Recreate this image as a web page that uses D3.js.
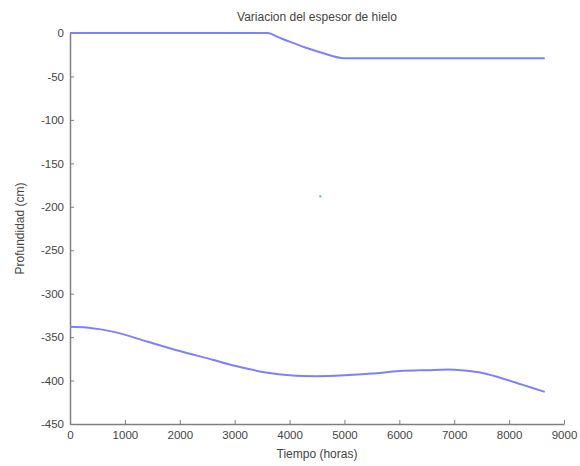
<!DOCTYPE html>
<html>
<head>
<meta charset="utf-8">
<script src="https://cdn.jsdelivr.net/npm/d3@7"></script>
<style>
  html, body { margin: 0; padding: 0; background: #ffffff; }
  svg { display: block; }
  text { font-family: "Liberation Sans", Arial, sans-serif; }
</style>
</head>
<body>
<svg id="chart" width="580" height="466"></svg>
<script>
// Data
const topTime  = [0, 1000, 2000, 3000, 3600, 3800, 4000, 4300, 4600, 5000, 6000, 7000, 8000, 8650];
const topDepth = [0, 0, 0, 0, 0, -5, -10, -17, -23, -29, -29, -29, -29, -29];

const botTime  = [0, 300, 800, 1400, 2000, 2600, 3000, 3600, 4000, 4500, 5000, 5500, 6000, 6500, 7000, 7450, 7850, 8250, 8650];
const botDepth = [-338, -339, -344, -355, -366, -376, -383, -391, -394, -395, -394, -392, -389, -388, -387.5, -390.5, -397, -405, -413];

const dotTime = [4560];
const dotDepth = [-188];

const xTicks = [0, 1000, 2000, 3000, 4000, 5000, 6000, 7000, 8000, 9000];
const yTicks = [0, -50, -100, -150, -200, -250, -300, -350, -400, -450];

const titleText = "Variacion del espesor de hielo";
const xLabel = "Tiempo (horas)";
const yLabel = "Profundidad (cm)";

(function () {
const svg = d3.select("#chart");
const mLeft = 70, mRight = 564, mTop = 33, mBottom = 424;

const x = d3.scaleLinear().domain([0, 9000]).range([mLeft, mRight]);
const y = d3.scaleLinear().domain([-450, 0]).range([mBottom, mTop]);

const axisColor = "#7f7f7f";
const textColor = "#444444";
const fmt = d => String(d);

// x axis
const gx = svg.append("g").attr("transform", `translate(0,${mBottom})`)
  .call(d3.axisBottom(x).tickValues(xTicks).tickFormat(fmt).tickSizeInner(-4).tickSizeOuter(0).tickPadding(7));
gx.select(".domain").attr("stroke", axisColor).attr("stroke-width", 1.5);
gx.selectAll(".tick line").attr("stroke", axisColor);
gx.selectAll(".tick text").attr("fill", textColor).attr("font-size", 11.5);

// y axis
const gy = svg.append("g").attr("transform", `translate(${mLeft},0)`)
  .call(d3.axisLeft(y).tickValues(yTicks).tickFormat(fmt).tickSizeInner(-4).tickSizeOuter(0).tickPadding(6));
gy.select(".domain").attr("stroke", axisColor).attr("stroke-width", 1.5);
gy.selectAll(".tick line").attr("stroke", axisColor);
gy.selectAll(".tick text").attr("fill", textColor).attr("font-size", 11.5);

const lineTop = d3.line().x(d => x(d[0])).y(d => y(d[1])).curve(d3.curveMonotoneX);
const lineBot = d3.line().x(d => x(d[0])).y(d => y(d[1])).curve(d3.curveCatmullRom);

svg.append("path")
  .datum(topTime.map((t, i) => [t, topDepth[i]]))
  .attr("d", lineTop).attr("fill", "none").attr("stroke", "#8080ff").attr("stroke-width", 2);

svg.append("path")
  .datum(botTime.map((t, i) => [t, botDepth[i]]))
  .attr("d", lineBot).attr("fill", "none").attr("stroke", "#8080ff").attr("stroke-width", 2);

svg.selectAll("rect.dot").data(dotTime.map((t, i) => [t, dotDepth[i]]))
  .enter().append("rect").attr("class", "dot")
  .attr("x", d => x(d[0]) - 1).attr("y", d => y(d[1]) - 1)
  .attr("width", 2).attr("height", 2).attr("fill", "#55aaff");

// title and labels
svg.append("text").attr("x", (mLeft + mRight) / 2).attr("y", 21)
  .attr("text-anchor", "middle").attr("font-size", 12).attr("fill", textColor).text(titleText);

svg.append("text").attr("x", (mLeft + mRight) / 2).attr("y", 458)
  .attr("text-anchor", "middle").attr("font-size", 12).attr("fill", textColor).text(xLabel);

svg.append("text").attr("transform", `translate(24,${(mTop + mBottom) / 2}) rotate(-90)`)
  .attr("text-anchor", "middle").attr("font-size", 12).attr("fill", textColor).text(yLabel);
})();
</script>
</body>
</html>
